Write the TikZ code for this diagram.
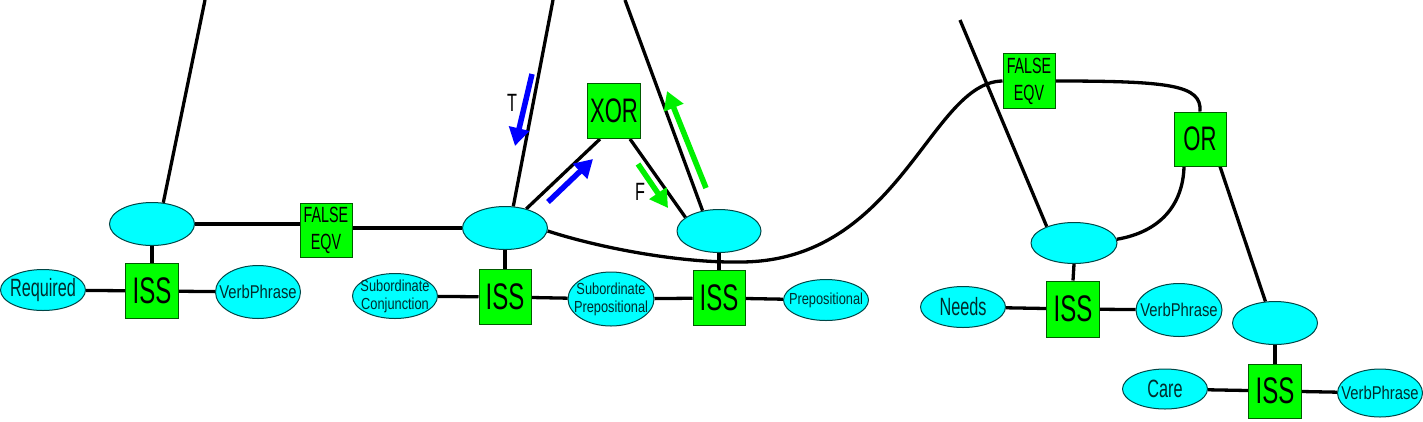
\documentclass[tikz,border=0pt]{standalone}
\usepackage{fontspec}
\setmainfont{Liberation Sans}
\newfontfamily\fa[FakeStretch=0.65]{Liberation Sans}
\newfontfamily\fb[FakeStretch=0.8]{Liberation Sans}
\usetikzlibrary{arrows.meta,shapes.geometric}
\pgfdeclarelayer{bg}
\pgfsetlayers{bg,main}
\definecolor{boxg}{RGB}{0,255,0}
\definecolor{boxd}{RGB}{0,90,0}
\definecolor{ellf}{RGB}{0,255,255}
\definecolor{elld}{RGB}{0,70,70}
\definecolor{arrb}{RGB}{0,0,255}
\definecolor{arrg}{RGB}{0,240,0}
\definecolor{ltxt}{RGB}{0,45,45}
\tikzset{
  ell/.style={ellipse, draw=elld, fill=ellf, line width=1pt, inner sep=0pt},
  box/.style={rectangle, draw=boxd, fill=boxg, line width=1pt, inner sep=0pt,
    align=center, minimum width=53pt, minimum height=55pt, text=black},
  bigtxt/.style={font=\fa\fontsize{37}{37}\selectfont},
  eqvtxt/.style={font=\fa\fontsize{22}{27}\selectfont},
  wtxtA/.style={inner sep=0pt, text=ltxt, font=\fa\fontsize{25}{25}\selectfont},
  wtxtB/.style={inner sep=0pt, text=ltxt, align=center, font=\fb\fontsize{18.5}{18.5}\selectfont},
  wtxtC/.style={inner sep=0pt, text=ltxt, align=center, font=\fb\fontsize{16}{18}\selectfont},
  conn/.style={line width=3.3pt, black},
  barrow/.style={line width=5.5pt, arrb, -{Triangle[length=18pt,width=20pt]}},
  garrow/.style={line width=5.5pt, arrg, -{Triangle[length=18pt,width=20pt]}},
  tf/.style={inner sep=0pt, font=\fa\fontsize{25}{25}\selectfont}
}
\begin{document}
\begin{tikzpicture}[x=1pt,y=-1pt]
\useasboundingbox (0,0) rectangle (1423,421);

% ---------- left group ----------
\node[ell, minimum width=85pt, minimum height=43pt] (e1) at (152,224) {};
\node[box, bigtxt] (iss1) at (152,291) {ISS};
\node[ell, minimum width=85pt, minimum height=41pt] (req) at (43,290) {};
\node[wtxtA] (reqt) at (req) {Required};
\node[ell, minimum width=85pt, minimum height=53pt] (vp1) at (258,292) {};
\node[wtxtB] (vp1t) at (vp1) {VerbPhrase};
\node[box, eqvtxt, minimum width=52pt, minimum height=54pt] (fe1) at (326,230) {FALSE\\EQV};

% ---------- middle group ----------
\node[ell, minimum width=85pt, minimum height=43pt] (e2) at (505,228) {};
\node[box, bigtxt, minimum width=52pt] (iss2) at (505,297) {ISS};
\node[ell, minimum width=85pt, minimum height=45pt] (sc) at (395,296) {};
\node[wtxtC] (sct) at (sc) {Subordinate\\Conjunction};
\node[ell, minimum width=86pt, minimum height=54pt] (sp) at (611,299) {};
\node[wtxtC] (spt) at (sp) {Subordinate\\Prepositional};
\node[ell, minimum width=84pt, minimum height=43pt] (e3) at (719,231) {};
\node[box, bigtxt, minimum width=52pt] (iss3) at (719,298) {ISS};
\node[ell, minimum width=85pt, minimum height=41pt] (prep) at (826,300) {};
\node[wtxtC] (prept) at (prep) {Prepositional};
\node[box, font=\fa\fontsize{34}{34}\selectfont] (xor) at (614,111) {XOR};

% ---------- right group ----------
\node[box, eqvtxt, minimum width=52pt] (fe2) at (1029,81) {FALSE\\EQV};
\node[box, font=\fa\fontsize{34}{34}\selectfont, minimum width=52pt, minimum height=54pt] (or) at (1200,139) {OR};
\node[ell, minimum width=86pt, minimum height=41pt] (e4) at (1074,243) {};
\node[box, bigtxt, minimum height=56pt] (iss4) at (1073,309) {ISS};
\node[ell, minimum width=85pt, minimum height=41pt] (needs) at (963,307) {};
\node[wtxtA] (needst) at (needs) {Needs};
\node[ell, minimum width=86pt, minimum height=53pt] (vp2) at (1179,310) {};
\node[wtxtB] (vp2t) at (vp2) {VerbPhrase};
\node[ell, minimum width=85pt, minimum height=43pt] (e5) at (1275,323) {};
\node[box, bigtxt, minimum height=54pt] (iss5) at (1275,391) {ISS};
\node[ell, minimum width=85pt, minimum height=40pt] (care) at (1165,389) {};
\node[wtxtA] (caret) at (care) {Care};
\node[ell, minimum width=85pt, minimum height=48pt] (vp3) at (1380,393) {};
\node[wtxtB] (vp3t) at (vp3) {VerbPhrase};

% free ends
\coordinate (t1) at (205,0);
\coordinate (t2) at (553,0);
\coordinate (t3) at (625,0);
\coordinate (t4) at (960,20);

\begin{pgfonlayer}{bg}
% left
\draw[conn] (e1.62) -- (t1);
\draw[conn] (e1.south) -- (iss1.north);
\draw[conn] (req) -- (iss1);
\draw[conn] (iss1) -- (vp1);
\draw[conn] (e1.east) -- (e1.east -| fe1.west);
\draw[conn] (fe1.east |- e2.west) -- (e2.west);
% middle
\draw[conn] (e2.69) -- (t2);
\draw[conn] (e2.south) -- (iss2.north);
\draw[conn] (sc) -- (iss2);
\draw[conn] (iss2) -- (sp);
\draw[conn] (sp) -- (iss3);
\draw[conn] (iss3) -- (prep);
\draw[conn] (e3.south) -- (iss3.north);
\draw[conn] (e2.42) -- ([xshift=-14pt]xor.south);
\draw[conn] ([xshift=16pt]xor.south) -- (e3.158);
\draw[conn] (e3.129) -- (t3);
% long curve
\draw[conn] (e2.-4) .. controls (600,248) and (680,263) .. (740,262)
   .. controls (900,262) and (930,82) .. (fe2.west);
% right
\draw[conn] (fe2.east) .. controls (1170,81) and (1202,85) .. (or.north);
\draw[conn] ([xshift=-16pt]or.south) .. controls (1183,205) and (1160,232) .. (e4.5);
\draw[conn] ([xshift=20pt]or.south) -- (e5.114);
\draw[conn] (t4) -- (e4.149);
\draw[conn] (e4.south) -- (iss4.north);
\draw[conn] (needs) -- (iss4);
\draw[conn] (iss4) -- (vp2);
\draw[conn] (e5.south) -- (iss5.north);
\draw[conn] (care) -- (iss5);
\draw[conn] (iss5) -- (vp3);
\end{pgfonlayer}

% flow arrows
\coordinate (ba1) at (532,74);  \coordinate (ba1e) at (515,146);
\coordinate (ba2) at (548,202); \coordinate (ba2e) at (593,159);
\coordinate (ga1) at (638,164); \coordinate (ga1e) at (668,208);
\coordinate (ga2) at (706,188); \coordinate (ga2e) at (667,91);
\draw[barrow] (ba1) -- (ba1e);
\draw[barrow] (ba2) -- (ba2e);
\draw[garrow] (ga1) -- (ga1e);
\draw[garrow] (ga2) -- (ga2e);
\node[tf] (tlab) at (512,103) {T};
\node[tf] (flab) at (640,192) {F};
\end{tikzpicture}
\end{document}
